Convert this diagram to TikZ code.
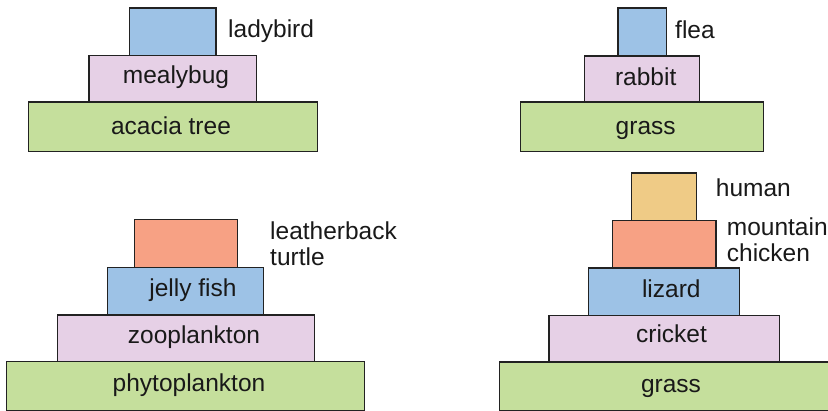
\documentclass[tikz,border=0pt]{standalone}
\usepackage{fontspec}
\setmainfont{Liberation Sans}
\definecolor{linec}{HTML}{222222}
\definecolor{cblue}{HTML}{9DC2E6}
\definecolor{cpink}{HTML}{E6D0E6}
\definecolor{cgreen}{HTML}{C5DF9C}
\definecolor{csalmon}{HTML}{F7A184}
\definecolor{cyellow}{HTML}{EFCB86}
\begin{document}
\begin{tikzpicture}[x=1pt,y=-1pt,
  tier/.style={draw=linec, line width=1.2pt, inner sep=0pt, outer sep=0pt, anchor=north west, rectangle},
  inlabel/.style={anchor=base, inner sep=0pt, font=\fontsize{24.5}{26}\selectfont, text=black!90},
  outlabel/.style={anchor=base west, inner sep=0pt, align=left, font=\fontsize{24.5}{26}\selectfont, text=black!90}]
\useasboundingbox (0,0) rectangle (828,410);
\clip (0,0) rectangle (828,410);
% pyramid 1
\node[tier, fill=cblue, minimum width=86.7pt, minimum height=47.7pt] (lady) at (129.3,8) {};
\node[tier, fill=cpink, minimum width=167.7pt, minimum height=46.3pt] (mealy) at (89,55.7) {};
\node[tier, fill=cgreen, minimum width=289pt, minimum height=49.7pt] (acacia) at (28.3,102) {};
\node[outlabel] (tlady) at (228,37.5) {ladybird};
\node[inlabel] (tmealy) at (176,83.5) {mealybug};
\node[inlabel] (tacacia) at (171,134.8) {acacia tree};
% pyramid 2
\node[tier, fill=cblue, minimum width=48.3pt, minimum height=48pt] (flea) at (618,8) {};
\node[tier, fill=cpink, minimum width=114.6pt, minimum height=46pt] (rabbit) at (584.7,56) {};
\node[tier, fill=cgreen, minimum width=242.6pt, minimum height=49.7pt] (grassa) at (520.7,102) {};
\node[outlabel] (tflea) at (675,38) {flea};
\node[inlabel] (trabbit) at (645.7,85) {rabbit};
\node[inlabel] (tgrassa) at (645.7,134.8) {grass};
% pyramid 3
\node[tier, fill=csalmon, minimum width=103pt, minimum height=47.6pt] (turtle) at (134.3,219.7) {};
\node[tier, fill=cblue, minimum width=155.6pt, minimum height=47.7pt] (jelly) at (107.7,267.3) {};
\node[tier, fill=cpink, minimum width=257pt, minimum height=46.7pt] (zoo) at (57.3,315) {};
\node[tier, fill=cgreen, minimum width=357.6pt, minimum height=49.3pt] (phyto) at (6.7,361.7) {};
\node[outlabel] (tturtle) at (270,265) {leatherback\\turtle};
\node[inlabel] (tjelly) at (193,296.7) {jelly fish};
\node[inlabel] (tzoo) at (194,343.3) {zooplankton};
\node[inlabel] (tphyto) at (189,391.7) {phytoplankton};
% pyramid 4
\node[tier, fill=cyellow, minimum width=65pt, minimum height=47.7pt] (human) at (631.7,173) {};
\node[tier, fill=csalmon, minimum width=103.7pt, minimum height=47.3pt] (mchick) at (612.3,220.7) {};
\node[tier, fill=cblue, minimum width=151pt, minimum height=47.3pt] (lizard) at (588.7,268) {};
\node[tier, fill=cpink, minimum width=230.7pt, minimum height=46.7pt] (cricket) at (549,315.3) {};
\node[tier, fill=cgreen, minimum width=330pt, minimum height=49pt] (grassb) at (499.3,362) {};
\node[outlabel] (thuman) at (715.7,196.7) {human};
\node[outlabel] (tmchick) at (726.7,261.7) {mountain\\chicken};
\node[inlabel] (tlizard) at (671.3,297.3) {lizard};
\node[inlabel] (tcricket) at (671.5,342.7) {cricket};
\node[inlabel] (tgrassb) at (671,392.3) {grass};
\end{tikzpicture}
\end{document}
